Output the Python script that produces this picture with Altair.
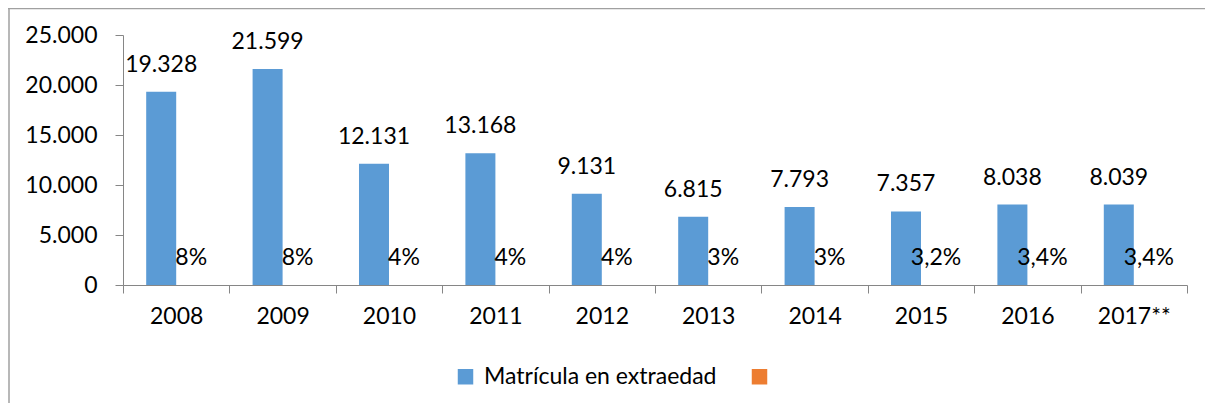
import altair as alt
import pandas as pd

years = ["2008", "2009", "2010", "2011", "2012", "2013", "2014", "2015", "2016", "2017**"]
matricula = [19328, 21599, 12131, 13168, 9131, 6815, 7793, 7357, 8038, 8039]
porcentaje = [0.08, 0.08, 0.04, 0.04, 0.04, 0.03, 0.03, 0.032, 0.034, 0.034]
porcentaje_labels = ["8%", "8%", "4%", "4%", "4%", "3%", "3%", "3,2%", "3,4%", "3,4%"]
y_ticks = [0, 5000, 10000, 15000, 20000, 25000]

S1 = "Matrícula en extraedad"
S2 = "Porcentaje"

rows = []
for yr, v in zip(years, matricula):
    rows.append({"year": yr, "serie": S1, "value": v, "label": f"{v:,}".replace(",", ".")})
for yr, p, lab in zip(years, porcentaje, porcentaje_labels):
    rows.append({"year": yr, "serie": S2, "value": p, "label": lab})
df = pd.DataFrame(rows)

FONT = "Lato"
FS = 23
GRAY = "#868686"
BLUE = "#5B9BD5"
ORANGE = "#ED7D31"

x = alt.X(
    "year:N", sort=years,
    scale=alt.Scale(paddingInner=0, paddingOuter=0),
    axis=alt.Axis(title=None, labelAngle=0, tickBand="extent", tickSize=8,
                  domainColor=GRAY, tickColor=GRAY, labelFont=FONT, labelFontSize=FS,
                  labelColor="#000000", labelPadding=12),
)
xo = alt.XOffset("serie:N", sort=[S1, S2], scale=alt.Scale(paddingInner=0, paddingOuter=0.773))
y = alt.Y(
    "value:Q",
    scale=alt.Scale(domain=[0, 25000]),
    axis=alt.Axis(title=None, values=y_ticks, grid=False, tickSize=8,
                  domainColor=GRAY, tickColor=GRAY, labelFont=FONT, labelFontSize=FS,
                  labelColor="#000000", labelPadding=18,
                  labelExpr="replace(format(datum.value, ','), ',', '.')"),
)
color = alt.Color(
    "serie:N",
    scale=alt.Scale(domain=[S1, S2], range=[BLUE, ORANGE]),
    legend=alt.Legend(title=None, orient="none", legendX=331, legendY=330,
                      direction="horizontal", symbolType="square", symbolSize=240,
                      symbolStrokeWidth=0, labelFont=FONT, labelFontSize=FS,
                      labelColor="#000000", labelOffset=7, columnPadding=31,
                      labelLimit=0,
                      labelExpr="datum.label == 'Porcentaje' ? '' : datum.label"),
)

one = pd.DataFrame({"f": [0]})
frame_top = alt.Chart(one).mark_rule(stroke="#a0a0a0", strokeWidth=1.5).encode(
    x=alt.value(-115), x2=alt.value(1085), y=alt.value(-26.5)
)
frame_left = alt.Chart(one).mark_rule(stroke="#a0a0a0", strokeWidth=1.5).encode(
    x=alt.value(-114), y=alt.value(-27), y2=alt.value(375)
)

base = alt.Chart(df)
bars = base.mark_bar().encode(x=x, xOffset=xo, y=y, color=color)
texts = base.mark_text(font=FONT, fontSize=FS, dy=-27, color="#000000").encode(
    x=x, xOffset=xo, y=y, text="label:N"
)

chart = alt.layer(frame_top, frame_left, bars, texts).properties(
    width=1064, height=250,
    autosize=alt.AutoSizeParams(type="none"),
    padding={"left": 115, "top": 27, "right": 18, "bottom": 118},
).configure_view(strokeWidth=0)

chart.save("out.html", embed_options={"renderer": "svg", "actions": False})
